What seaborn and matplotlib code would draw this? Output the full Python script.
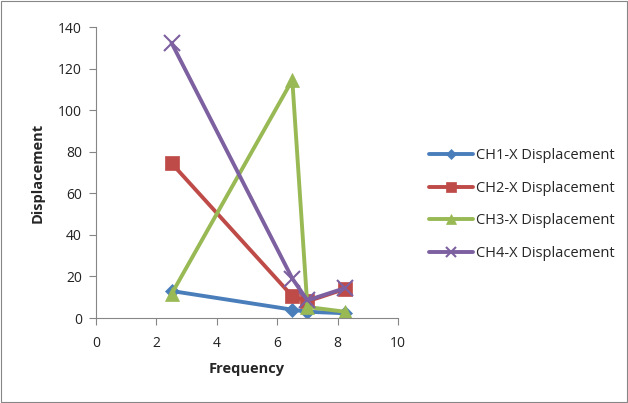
import numpy as np
import pandas as pd
import matplotlib
matplotlib.use("Agg")
import matplotlib.pyplot as plt
import seaborn as sns

frequency = [2.5, 6.5, 7.0, 8.25]
ch1 = [13.0, 4.0, 3.0, 2.3]
ch2 = [74.5, 10.5, 8.0, 14.0]
ch3 = [11.5, 114.5, 5.3, 3.0]
ch4 = [132.4, 19.0, 8.5, 14.4]
names = ["CH1-X Displacement", "CH2-X Displacement",
         "CH3-X Displacement", "CH4-X Displacement"]
colors = ["#4A7EBB", "#BE4B48", "#98B954", "#7D60A0"]
markers = ["D", "s", "^", "x"]
msizes = [7, 10, 10, 11]

rows = []
for name, vals in zip(names, [ch1, ch2, ch3, ch4]):
    for f, v in zip(frequency, vals):
        rows.append({"Frequency": f, "Displacement": v, "series": name})
df = pd.DataFrame(rows)

sns.set_style("white")
plt.rcParams["font.family"] = ["Open Sans", "DejaVu Sans"]

fig = plt.figure(figsize=(6.28, 4.03), dpi=100)
ax = fig.add_axes([96 / 628, 1 - 318 / 403, (398 - 96) / 628, (318 - 27) / 403])

for name, c, m, ms in zip(names, colors, markers, msizes):
    sub = df[df["series"] == name]
    sns.lineplot(data=sub, x="Frequency", y="Displacement", ax=ax, color=c,
                 marker=m, markersize=ms, markeredgecolor=c, markeredgewidth=1.5 if m == "x" else 0.5,
                 linewidth=2.8, label=name, sort=False)

ax.set_xlim(0, 10)
ax.set_ylim(0, 140)
ax.set_xticks(range(0, 11, 2))
ax.set_yticks(range(0, 141, 20))
ax.set_xlabel("Frequency", fontsize=10.5, fontweight="bold", labelpad=8)
ax.set_ylabel("Displacement", fontsize=10.5, fontweight="bold", labelpad=10)
ax.tick_params(axis="both", labelsize=10, colors="#222222", length=5,
               width=0.8, direction="out", bottom=True, left=True)
ax.tick_params(axis="x", pad=8)
ax.tick_params(axis="y", pad=5)
for s in ["top", "right"]:
    ax.spines[s].set_visible(False)
for s in ["left", "bottom"]:
    ax.spines[s].set_color("#868686")
    ax.spines[s].set_linewidth(0.8)
ax.tick_params(axis="both", color="#868686")

leg = ax.legend(loc="center left", bbox_to_anchor=(1.06, 0.39), frameon=False,
                fontsize=10.5, handlelength=3.0, labelspacing=1.2, handletextpad=0.2,
                markerscale=0.7)

fig.patches.append(plt.Rectangle((0.002, 0.002), 0.996, 0.996, transform=fig.transFigure,
                                 fill=False, edgecolor="#868686", linewidth=0.8))

fig.savefig("out.png", dpi=100)
